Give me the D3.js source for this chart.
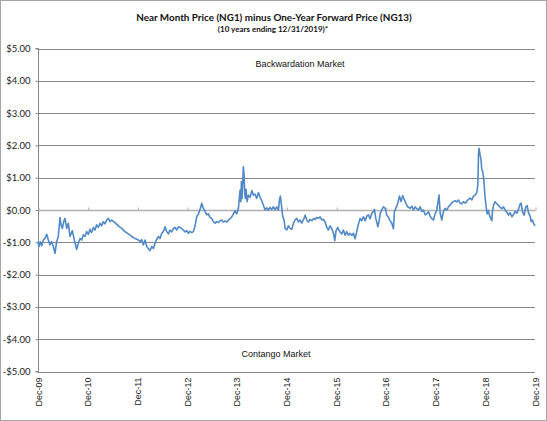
<!DOCTYPE html>
<html><head><meta charset="utf-8">
<script src="https://cdn.jsdelivr.net/npm/d3@7"></script>
<style>html,body{margin:0;padding:0;background:#fff;}svg{display:block;}</style>
</head><body>
<svg id="chart" width="547" height="421"></svg>
<script>
const title = "Near Month Price (NG1) minus One-Year Forward Price (NG13)";
const subtitle = "(10 years ending  12/31/2019)*";
const upperNote = "Backwardation Market";
const lowerNote = "Contango Market";
const startDate = "2009-12-31";
const endDate = "2019-12-31";
const xTickLabels = ["Dec-09","Dec-10","Dec-11","Dec-12","Dec-13","Dec-14","Dec-15","Dec-16","Dec-17","Dec-18","Dec-19"];
const yTickValues = [5,4,3,2,1,0,-1,-2,-3,-4,-5];

// days after startDate
const dayOffsets = [0,7,17,27,39,51,64,76,88,100,113,125,137,149,162,169,179,189,198,211,223,235,252,267,284,296,309,321,333,345,358,370,382,394,407,419,431,443,456,468,480,492,505,517,529,541,566,590,615,639,664,688,713,
738,750,762,774,787,799,811,823,836,848,860,872,885,897,909,921,934,946,958,970,983,995,1007,1019,1032,1044,1056,1068,1081,1093,1105,1117,1130,1142,1154,1166,1179,1191,1203,1215,1228,1240,1252,1264,1277,1289,1301,1313,1326,1338,1350,1362,1375,1387,1399,1411,1424,1436,1448,
1460,1473,1480,1485,1490,1495,1499,1504,1509,1514,1519,1524,1529,1536,1546,1558,1571,1583,1595,1607,1620,1632,1644,1656,1669,1681,1693,1705,1718,1730,1742,1754,1767,1774,1781,1789,1798,1808,1816,1828,1840,1852,1865,1877,1889,1901,1914,1926,1938,1950,1963,1975,1987,1999,2012,2024,2036,2048,2061,2073,2085,2097,2110,2122,2134,2146,2159,2171,2181,2190,2203,
2208,2220,2232,2244,2257,2269,2281,2293,2306,2318,2330,2342,2355,2367,2379,2391,2404,2416,2428,2440,2453,2465,2472,2482,2489,2497,2506,2514,2526,2538,2551,2563,2575,2587,2600,2612,2619,2629,2644,2656,2668,2680,2693,2705,2717,2734,2747,2759,2771,2783,2796,2808,2820,2832,2845,2857,2869,2881,2894,2906,2918,2930,
2938,2947,2955,2967,2979,2992,3004,3016,3028,3041,3053,3065,3077,3090,3102,3114,3126,3139,3151,3163,3175,3188,3200,3212,3224,3232,3237,3241,3249,3256,3261,3268,3276,3285,3293,3300,3310,3317,3327,3335,3339,3347,3359,3371,3384,3396,3408,3420,3433,3445,3457,3469,3482,3494,3506,3518,3531,3543,3550,3560,3572,3584,3594,3604,3616,3624,3633,3643,3653];

// NG1 - NG13 spread, $
const spread = [-0.98,-1.13,-0.98,-1.11,-0.93,-0.88,-0.75,-0.93,-1.08,-0.98,-1.13,-1.34,-0.98,-0.82,-0.23,-0.46,-0.57,-0.36,-0.26,-0.57,-0.41,-0.82,-0.64,-0.93,-1.22,-1.03,-0.88,-0.93,-0.77,-0.82,-0.67,-0.75,-0.60,-0.70,-0.54,-0.62,-0.46,-0.54,-0.41,-0.49,-0.36,-0.43,-0.31,-0.26,-0.36,-0.31,-0.39,-0.49,-0.57,-0.67,-0.74,-0.82,-0.88,
-0.93,-0.98,-0.91,-1.08,-0.93,-1.13,-1.19,-1.26,-1.13,-1.19,-1.03,-0.91,-0.82,-0.88,-0.72,-0.67,-0.52,-0.67,-0.74,-0.62,-0.68,-0.57,-0.54,-0.62,-0.52,-0.54,-0.58,-0.62,-0.68,-0.64,-0.72,-0.66,-0.70,-0.67,-0.49,-0.21,-0.12,0.02,0.21,0.05,-0.05,-0.15,-0.12,-0.23,-0.27,-0.36,-0.41,-0.36,-0.39,-0.33,-0.31,-0.37,-0.34,-0.37,-0.31,-0.27,-0.21,-0.12,-0.02,
-0.12,0.05,0.41,0.62,0.26,0.88,0.36,0.82,1.34,1.08,0.52,0.36,0.64,0.26,0.46,0.39,0.60,0.46,0.49,0.36,0.54,0.39,0.29,0.15,0.00,0.07,0.00,0.08,0.02,0.10,0.00,0.10,0.00,0.31,0.43,0.15,-0.19,-0.31,-0.57,-0.62,-0.49,-0.57,-0.60,-0.41,-0.31,-0.26,-0.37,-0.31,-0.41,-0.31,-0.16,-0.31,-0.37,-0.29,-0.33,-0.27,-0.29,-0.23,-0.26,-0.21,-0.31,-0.29,-0.37,-0.54,-0.62,-0.49,-0.58,-0.72,-0.95,-0.64,-0.54,
-0.60,-0.68,-0.74,-0.62,-0.78,-0.67,-0.78,-0.72,-0.79,-0.72,-0.89,-0.67,-0.43,-0.26,-0.33,-0.21,-0.33,-0.19,-0.15,-0.27,-0.10,-0.04,0.02,-0.26,-0.37,-0.52,-0.36,-0.12,0.00,0.10,0.05,-0.15,-0.23,-0.33,-0.41,-0.58,-0.05,0.05,0.21,0.43,0.26,0.45,0.31,0.19,0.10,0.05,0.12,0.00,0.10,0.04,0.00,0.10,-0.05,0.00,-0.15,-0.12,-0.05,-0.19,-0.27,-0.31,-0.12,-0.02,
0.21,0.46,-0.10,-0.31,-0.05,0.05,0.00,0.10,0.15,0.23,0.26,0.29,0.25,0.31,0.21,0.19,0.26,0.21,0.27,0.33,0.37,0.31,0.43,0.46,0.54,0.77,1.75,1.91,1.70,1.53,1.24,1.19,0.93,0.41,0.10,-0.12,-0.02,-0.16,-0.26,-0.33,-0.05,0.15,0.26,0.19,0.14,0.08,0.04,0.10,0.00,-0.06,-0.16,-0.08,-0.21,-0.14,-0.04,-0.10,0.02,0.19,0.21,-0.05,-0.16,0.10,0.14,-0.08,-0.19,-0.36,-0.31,-0.43,-0.49];

const svg = d3.select("#chart");
const W = 547, H = 421;
const m = {left: 38, right: 535, top: 48.5, bottom: 371.5};

svg.append("rect").attr("x",0.5).attr("y",0.5).attr("width",W-1).attr("height",H-1)
  .attr("fill","#fff").attr("stroke","#a6a6a6");

const t0 = d3.isoParse(startDate), t1 = d3.isoParse(endDate);
const x = d3.scaleTime().domain([t0, t1]).range([m.left, m.right]);
const y = d3.scaleLinear().domain([-5, 5]).range([m.bottom, m.top]);

const data = dayOffsets.map((d, i) => ({date: d3.timeDay.offset(t0, d), v: spread[i]}));
const tickDates = xTickLabels.map((l, i) => d3.timeYear.offset(t0, i));

// gridlines
svg.append("g").selectAll("line").data(yTickValues.filter(v => v !== 0)).join("line")
  .attr("x1", m.left).attr("x2", m.right)
  .attr("y1", d => Math.round(y(d)) + 0.5).attr("y2", d => Math.round(y(d)) + 0.5)
  .attr("stroke", "#868686").attr("stroke-width", 1);

// y axis
const yAxis = svg.append("g").attr("transform", `translate(${m.left + 0.5},0)`)
  .call(d3.axisLeft(y).tickValues(yTickValues).tickSize(3).tickPadding(5)
        .tickFormat(d => (d < 0 ? "-$" : "$") + Math.abs(d).toFixed(2)));
yAxis.select(".domain").attr("stroke", "#868686").attr("d", `M-3,${m.top}H0V${m.bottom}H-3`);
yAxis.selectAll(".tick line").attr("stroke", "#868686");
yAxis.selectAll(".tick text").attr("font-family", "Lato, 'Open Sans', sans-serif")
  .attr("font-size", 9.5).attr("fill", "#222");

// x axis at zero
const y0 = Math.round(y(0)) + 0.5;
const xAxis = svg.append("g").attr("transform", `translate(0.5,${y0})`)
  .call(d3.axisBottom(x).tickValues(tickDates).tickSize(3).tickFormat(""));
xAxis.select(".domain").attr("stroke", "#b0b0b0").attr("stroke-width", 1.3).attr("d", `M${m.left},0H${m.right}`);
xAxis.selectAll(".tick line").attr("stroke", "#b0b0b0").attr("y1", -3).attr("y2", 0);

// x labels at bottom
svg.append("g").selectAll("text").data(tickDates).join("text")
  .attr("transform", d => `translate(${x(d) + 3.5},${m.bottom + 6}) rotate(-90)`)
  .attr("text-anchor", "end")
  .attr("font-family", "'Liberation Sans', Arial, sans-serif").attr("font-size", 9)
  .attr("fill", "#222")
  .text((d, i) => xTickLabels[i]);

// series line
svg.append("path").datum(data)
  .attr("fill", "none").attr("stroke", "#5089c6").attr("stroke-width", 1.6)
  .attr("stroke-linejoin", "round")
  .attr("d", d3.line().x(d => x(d.date)).y(d => y(d.v)));

// titles
svg.append("text").attr("x", 274).attr("y", 21).attr("text-anchor", "middle")
  .attr("font-family", "Lato, 'Open Sans', sans-serif").attr("font-weight", "bold")
  .attr("font-size", 9.9).attr("fill", "#111").text(title);
svg.append("text").attr("x", 273).attr("y", 32).attr("text-anchor", "middle")
  .attr("font-family", "Lato, 'Open Sans', sans-serif").attr("font-weight", "bold")
  .attr("font-size", 8).attr("fill", "#111").text(subtitle);

// notes
svg.append("text").attr("x", 300).attr("y", 67).attr("text-anchor", "middle")
  .attr("font-family", "'Liberation Sans', Arial, sans-serif").attr("font-size", 9)
  .attr("fill", "#111").text(upperNote);
svg.append("text").attr("x", 276).attr("y", 357).attr("text-anchor", "middle")
  .attr("font-family", "'Liberation Sans', Arial, sans-serif").attr("font-size", 9)
  .attr("fill", "#111").text(lowerNote);
</script>
</body></html>
